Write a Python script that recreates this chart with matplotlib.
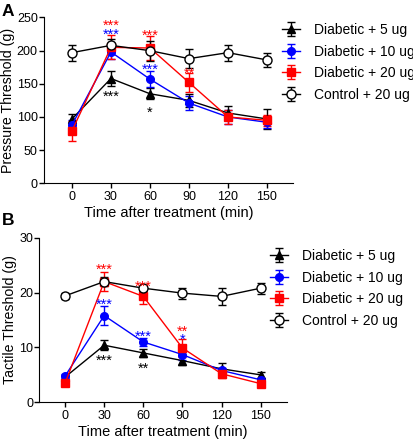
import matplotlib
matplotlib.use("Agg")
import matplotlib.pyplot as plt

plt.rcParams['font.family'] = ['Liberation Sans', 'DejaVu Sans']

time = [0, 30, 60, 90, 120, 150]
labels = ["Diabetic + 5 ug", "Diabetic + 10 ug", "Diabetic + 20 ug", "Control + 20 ug"]

# Panel A: Pressure threshold (g)
pA_d5 = [97, 158, 135, 125, 106, 97]
pA_d5_err = [8, 12, 8, 10, 10, 15]
pA_d10 = [88, 198, 157, 121, 100, 92]
pA_d10_err = [8, 10, 12, 10, 10, 8]
pA_d20 = [79, 205, 204, 152, 100, 95]
pA_d20_err = [15, 18, 18, 14, 10, 8]
pA_ctrl = [197, 208, 200, 188, 197, 186]
pA_ctrl_err = [12, 10, 15, 14, 12, 10]

# Panel B: Tactile threshold (g)
pB_d5 = [4.6, 10.4, 9.0, 7.6, 6.1, 5.0]
pB_d5_err = [0.3, 0.9, 0.8, 0.8, 1.0, 0.6]
pB_d10 = [4.8, 15.8, 11.0, 8.7, 5.8, 4.1]
pB_d10_err = [0.4, 1.8, 0.7, 0.9, 0.5, 0.4]
pB_d20 = [3.5, 22.0, 19.3, 9.9, 5.2, 3.4]
pB_d20_err = [0.4, 1.8, 1.3, 1.6, 0.8, 0.4]
pB_ctrl = [19.4, 22.0, 20.8, 19.9, 19.3, 20.8]
pB_ctrl_err = [0.6, 0.8, 0.6, 1.0, 1.6, 1.0]

# significance marks: (time, y, text, color)
starsA = [(30, 244, "***", "red"), (30, 231, "***", "blue"), (30, 136.5, "***", "black"),
          (60, 228.5, "***", "red"), (60, 177, "***", "blue"), (60, 113, "*", "black"),
          (90, 172, "**", "red")]
starsB = [(30, 25.0, "***", "red"), (30, 18.6, "***", "blue"), (30, 8.3, "***", "black"),
          (60, 21.8, "***", "red"), (60, 12.8, "***", "blue"), (60, 6.9, "**", "black"),
          (90, 13.7, "**", "red"), (90, 12.1, "*", "blue")]

RED = '#ff0000'
BLUE = '#0000ff'
cmap = {"red": RED, "blue": BLUE, "black": "black"}

fig = plt.figure(figsize=(4.14, 4.4), dpi=100)
axA = fig.add_axes([44/414, 1-183.3/440, 249/414, 165.8/440])
axB = fig.add_axes([39.3/414, 1-402.3/440, 247.4/414, 164.6/440])

def draw(ax, d5, e5, d10, e10, d20, e20, c, ec, stars, xlim, ylim, yticks, ylabel, legpos):
    kw = dict(lw=1.0, elinewidth=1.0, capthick=1.0, capsize=2.6)
    h1 = ax.errorbar(time, d5, yerr=e5, color='black', marker='^', ms=5.5, **kw)
    h2 = ax.errorbar(time, d10, yerr=e10, color=BLUE, marker='o', ms=5.5, **kw)
    h3 = ax.errorbar(time, d20, yerr=e20, color=RED, marker='s', ms=5.2, **kw)
    h4 = ax.errorbar(time, c, yerr=ec, color='black', marker='o', ms=6.5, mfc='white',
                     mec='black', mew=1.0, **kw)
    for t, y, s, col in stars:
        ax.annotate(s, (t, y), xytext=(0, -6), textcoords='offset points',
                    color=cmap[col], ha='center', va='baseline', fontsize=10.5)
    ax.set_xlim(*xlim)
    ax.set_ylim(*ylim)
    ax.set_xticks(time)
    ax.set_yticks(yticks)
    for sp in ['top', 'right']:
        ax.spines[sp].set_visible(False)
    ax.tick_params(direction='out', length=3.3, width=1, labelsize=9)
    ax.tick_params(axis='y', pad=1.2)
    ax.tick_params(axis='x', pad=2.5)
    ax.set_xlabel("Time after treatment (min)", fontsize=10.5, labelpad=2)
    ax.set_ylabel(ylabel, fontsize=10.2, labelpad=1.5)
    fig.legend([h1, h2, h3, h4], labels, loc='upper left', bbox_to_anchor=legpos,
               frameon=False, fontsize=10, handlelength=1.3, handletextpad=1.0,
               labelspacing=0.55, borderpad=0, borderaxespad=0)

draw(axA, pA_d5, pA_d5_err, pA_d10, pA_d10_err, pA_d20, pA_d20_err, pA_ctrl, pA_ctrl_err,
     starsA, (-21.5, 170), (0, 250), [0, 50, 100, 150, 200, 250], "Pressure Threshold (g)",
     (282/414, 1-23/440))
draw(axB, pB_d5, pB_d5_err, pB_d10, pB_d10_err, pB_d20, pB_d20_err, pB_ctrl, pB_ctrl_err,
     starsB, (-19.8, 170), (0, 30), [0, 10, 20, 30], "Tactile Threshold (g)",
     (270/414, 1-249/440))

fig.text(2/414, 1-12/440, "A", fontsize=12.5, fontweight='bold', va='center', ha='left')
fig.text(2/414, 1-220/440, "B", fontsize=12.5, fontweight='bold', va='center', ha='left')

fig.savefig("out.png", dpi=100)
